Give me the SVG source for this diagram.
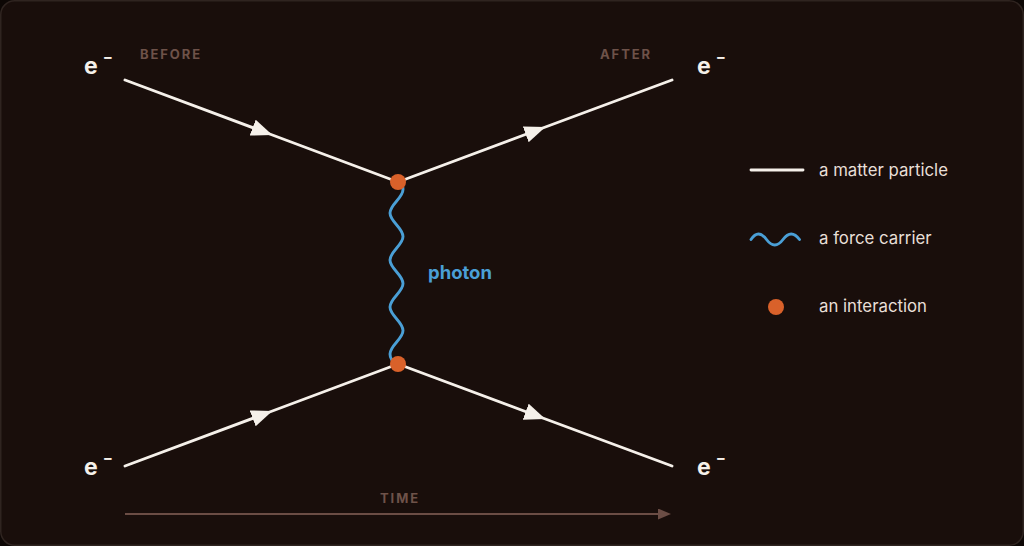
<svg xmlns="http://www.w3.org/2000/svg" width="1024" height="546" viewBox="0 0 1024 546">
<defs>
<style>
.bg{fill:#190e0b;stroke:#2f2420;stroke-width:1.5}
.matter{fill:none;stroke:#f5f0ea;stroke-width:2.9;stroke-linecap:round;marker-mid:url(#ah)}
.legline{fill:none;stroke:#f5f0ea;stroke-width:2.9;stroke-linecap:round}
.wave{fill:none;stroke:#4a9fd6;stroke-width:2.9;stroke-linecap:round}
.dot{fill:#d9612a}
.elab{font-family:Inter,"Liberation Sans",sans-serif;font-weight:700;font-size:23px;fill:#f5f0ea}
.cap{font-family:Inter,"Liberation Sans",sans-serif;font-weight:700;font-size:13px;letter-spacing:1.9px;fill:#6e5249}
.leg{font-family:Inter,"Liberation Sans",sans-serif;font-size:16.8px;fill:#e8dfd7}
.pho{font-family:Inter,"Liberation Sans",sans-serif;font-weight:700;font-size:18.5px;fill:#4a9fd6}
.time{fill:none;stroke:#6b4d45;stroke-width:2}
</style>
<marker id="ah" markerUnits="userSpaceOnUse" markerWidth="22" markerHeight="18" refX="11" refY="8.5" orient="auto" viewBox="0 0 22 18">
<path d="M0,0 L21,8.5 L0,17 Z" fill="#f5f0ea"/>
</marker>
<marker id="ta" markerUnits="userSpaceOnUse" markerWidth="14" markerHeight="12" refX="2" refY="5.5" orient="auto" viewBox="0 0 14 12">
<path d="M0,0 L13,5.5 L0,11 Z" fill="#6b4d45"/>
</marker>
</defs>
<rect x="0" y="0" width="1024" height="546" fill="#0d0705"/>
<rect class="bg" x="0.75" y="0.75" width="1022.5" height="544.5" rx="14"/>

<g id="connectors">
<polyline id="in-top" class="matter" points="125,80 263,131.5 398,182"/>
<polyline id="out-top" class="matter" points="398,182 536,130.5 672,80"/>
<polyline id="in-bottom" class="matter" points="125,466 263,414.5 398,364"/>
<polyline id="out-bottom" class="matter" points="398,364 536,415.5 672,466"/>
<path id="photon-line" class="wave" d="M399 182 Q403 184 403 189.5 C403 198,390 204.5,390 213 C390 221.5,403 228,403 236.5 C403 245,390 251.5,390 260 C390 268.5,403 275,403 283.5 C403 292,390 298.5,390 307 C390 315.5,403 322,403 330.5 C403 339,390 345.5,390 354 C390 358,393 362,397 364"/>
<line id="time-arrow" class="time" x1="125" y1="514" x2="660" y2="514" marker-end="url(#ta)"/>
</g>

<g id="vertex-top"><circle class="dot" cx="398" cy="182" r="8"/></g>
<g id="vertex-bottom"><circle class="dot" cx="398" cy="364" r="8"/></g>

<g id="label-e-tl"><text class="elab" x="84" y="74">e<tspan dx="5" dy="-12" font-size="15">−</tspan></text></g>
<g id="label-e-tr"><text class="elab" x="697" y="74">e<tspan dx="5" dy="-12" font-size="15">−</tspan></text></g>
<g id="label-e-bl"><text class="elab" x="84" y="475">e<tspan dx="5" dy="-12" font-size="15">−</tspan></text></g>
<g id="label-e-br"><text class="elab" x="697" y="475">e<tspan dx="5" dy="-12" font-size="15">−</tspan></text></g>

<g id="label-before"><text class="cap" x="140" y="59">BEFORE</text></g>
<g id="label-after"><text class="cap" x="600" y="59">AFTER</text></g>
<g id="label-time"><text class="cap" x="380" y="503">TIME</text></g>
<g id="label-photon"><text class="pho" x="428" y="279">photon</text></g>

<g id="legend">
<line class="legline" x1="751" y1="170" x2="803" y2="170"/>
<text class="leg" x="819" y="176">a matter particle</text>
<path class="wave" d="M751 239.5 Q758.25 228.5 766.5 239.5 T783 239.5 T799.5 239.5"/>
<text class="leg" x="819" y="244">a force carrier</text>
<circle class="dot" cx="776" cy="307" r="8"/>
<text class="leg" x="819" y="312">an interaction</text>
</g>
</svg>
